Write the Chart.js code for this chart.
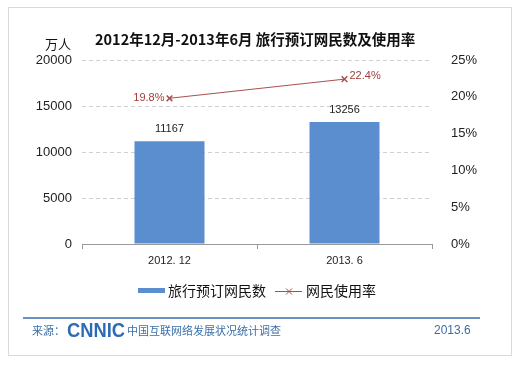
<!DOCTYPE html>
<html>
<head>
<meta charset="utf-8">
<script src="https://cdn.jsdelivr.net/npm/chart.js@4"></script>
<style>
  html, body { margin: 0; padding: 0; background: #fff; }
  #wrap { position: relative; width: 523px; height: 366px; }
</style>
</head>
<body>
<div id="wrap"><canvas id="chart" width="523" height="366"></canvas></div>
<script>
// data
const periods = ["2012. 12", "2013. 6"];
const users = [11167, 13256];          // 旅行预订网民数（万人）
const usageRate = [19.8, 22.4];        // 网民使用率 (%)
const leftTicks = [0, 5000, 10000, 15000, 20000];

const FONT = "'Liberation Sans', 'Noto Sans CJK SC', sans-serif";
const CJK = "'Noto Sans CJK SC', 'Liberation Sans', sans-serif";
const barColor = "#5b8ecf";
const lineColor = "#a8504c";

const extras = {
  id: "extras",
  beforeDraw(chart) {
    const c = chart.ctx;
    c.save();
    c.fillStyle = "#fff";
    c.fillRect(0, 0, chart.width, chart.height);
    c.strokeStyle = "#d9d9d9";
    c.lineWidth = 1;
    c.strokeRect(8.5, 7.5, 503, 348);
    c.restore();
  },
  afterDraw(chart) {
    const c = chart.ctx;
    c.save();
    // title
    c.fillStyle = "#111";
    c.font = "bold 14.5px " + CJK;
    c.textAlign = "left";
    c.textBaseline = "middle";
    c.fillText("2012年12月-2013年6月 旅行预订网民数及使用率", 95, 39);
    c.font = "13px " + CJK;
    c.fillText("万人", 45, 44);

    // value labels
    const barMeta = chart.getDatasetMeta(0);
    c.font = "11px " + FONT;
    c.fillStyle = "#222";
    c.textAlign = "center";
    barMeta.data.forEach((b, i) => {
      c.fillText(String(users[i]), b.x, b.y - 12);
    });
    const lineMeta = chart.getDatasetMeta(1);
    c.fillStyle = "#a33e3a";
    lineMeta.data.forEach((p, i) => {
      const t = usageRate[i].toFixed(1) + "%";
      if (i === 0) { c.textAlign = "right"; c.fillText(t, p.x - 5, p.y); }
      else { c.textAlign = "left"; c.fillText(t, p.x + 5, p.y - 3); }
    });

    // legend
    c.fillStyle = barColor;
    c.fillRect(138, 288, 27, 5);
    c.fillStyle = "#111";
    c.font = "14px " + CJK;
    c.textAlign = "left";
    c.fillText("旅行预订网民数", 168, 291);
    c.strokeStyle = lineColor;
    c.lineWidth = 1;
    c.beginPath(); c.moveTo(275, 291.5); c.lineTo(302, 291.5); c.stroke();
    c.beginPath();
    c.moveTo(286, 288.5); c.lineTo(292, 294.5);
    c.moveTo(292, 288.5); c.lineTo(286, 294.5);
    c.stroke();
    c.fillText("网民使用率", 306, 291);

    // footer
    c.strokeStyle = "#6a92c0";
    c.lineWidth = 2;
    c.beginPath(); c.moveTo(23, 318); c.lineTo(480, 318); c.stroke();
    c.fillStyle = "#3b6fa9";
    c.font = "11px " + CJK;
    c.fillText("来源：", 32, 331);
    c.font = "bold 20px " + FONT;
    c.fillStyle = "#2d6bb3";
    const w = c.measureText("CNNIC").width;
    c.save();
    c.translate(67, 331);
    c.scale(58 / w, 1);
    c.fillText("CNNIC", 0, 0);
    c.restore();
    c.font = "11px " + CJK;
    c.fillStyle = "#3b6fa9";
    c.fillText("中国互联网络发展状况统计调查", 127, 331);
    c.font = "12px " + FONT;
    c.fillText("2013.6", 434, 331);
    c.restore();
  }
};

new Chart(document.getElementById("chart"), {
  type: "bar",
  data: {
    labels: periods,
    datasets: [{
      label: "旅行预订网民数",
      data: users,
      backgroundColor: barColor,
      barPercentage: 0.4,
      categoryPercentage: 1,
      yAxisID: "y",
      order: 2
    }, {
      type: "line",
      label: "网民使用率",
      data: usageRate,
      borderColor: lineColor,
      borderWidth: 1,
      pointStyle: "crossRot",
      pointRadius: 4,
      pointBorderColor: lineColor,
      pointBorderWidth: 1.5,
      yAxisID: "y2",
      order: 1
    }]
  },
  options: {
    responsive: false,
    animation: false,
    layout: { padding: { top: 60, left: 0, right: 0, bottom: 0 } },
    plugins: { legend: { display: false }, title: { display: false }, tooltip: { enabled: false } },
    scales: {
      x: {
        afterFit(s) { s.height = 122; },
        grid: { display: true, drawOnChartArea: false, tickLength: 5, color: "#999" },
        border: { color: "#999" },
        ticks: { font: { family: FONT, size: 11 }, color: "#222", padding: 5 }
      },
      y: {
        position: "left",
        min: 0, max: 20000,
        afterFit(s) { s.width = 82; },
        afterBuildTicks(s) { s.ticks = leftTicks.map(v => ({ value: v })); },
        grid: { color: "#d0d0d0", tickLength: 0, drawTicks: false },
        border: { display: false, dash: [4, 3] },
        ticks: { font: { family: FONT, size: 13 }, color: "#222", padding: 10,
                 callback: v => String(v) }
      },
      y2: {
        position: "right",
        min: 0, max: 25,
        afterFit(s) { s.width = 91; },
        grid: { display: false },
        border: { display: false },
        ticks: { stepSize: 5, font: { family: FONT, size: 13 }, color: "#222", padding: 11,
                 callback: v => v + "%" }
      }
    }
  },
  plugins: [extras]
});
</script>
</body>
</html>
